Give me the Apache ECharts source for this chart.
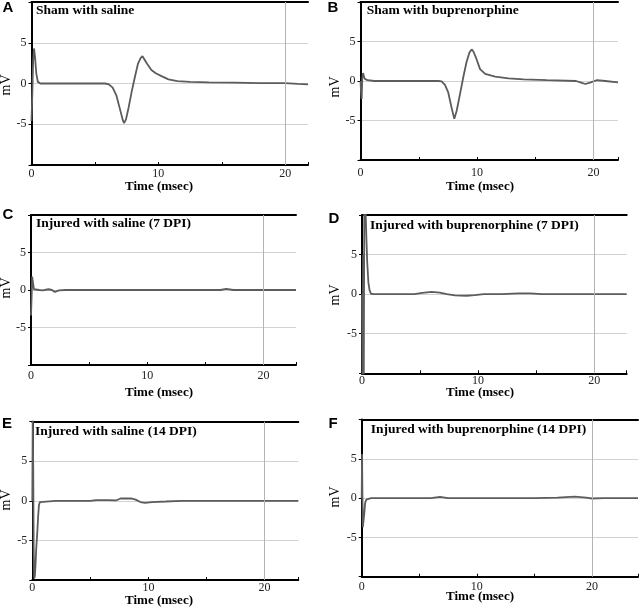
<!DOCTYPE html>
<html>
<head>
<meta charset="utf-8">
<script src="https://cdn.jsdelivr.net/npm/echarts@6/dist/echarts.min.js"></script>
<style>
  html, body { margin: 0; padding: 0; background: #fff; }
  #main { width: 641px; height: 609px; }
</style>
</head>
<body>
<div id="main"></div>
<script>
// panel letters and headings
var letters = ['A', 'B', 'C', 'D', 'E', 'F'];
var headings = [
  'Sham with saline',
  'Sham with buprenorphine',
  'Injured with saline (7 DPI)',
  'Injured with buprenorphine (7 DPI)',
  'Injured with saline (14 DPI)',
  'Injured with buprenorphine (14 DPI)'
];
var xTickLabels = [0, 10, 20];
var yTickLabels = [-5, 0, 5];
var xMaxes = [21.8, 22.1, 22.8, 22.8, 22.9, 24];
var yMins = [-10, -10, -10, -10, -10, -10];
var yMaxes = [10, 10, 10, 10, 10, 10];

// traces: time (msec) and voltage (mV)
var tA = [0, 0.06, 0.13, 0.2, 0.28, 0.38, 0.5, 0.7, 2, 4, 5.8, 6.1, 6.4, 6.7, 7.0, 7.2, 7.3, 7.45, 7.65, 7.9, 8.15, 8.4, 8.6, 8.75, 8.9, 9.1, 9.45, 9.8, 10.25, 10.8, 11.5, 12.5, 14, 16, 18, 20, 21, 21.8];
var vA = [-4.6, -1.5, 2.8, 4.3, 3.2, 1.2, 0.2, 0, 0, 0, 0, -0.1, -0.5, -1.5, -3.3, -4.5, -4.85, -4.4, -3.0, -1.0, 0.8, 2.45, 3.1, 3.35, 3.2, 2.45, 1.65, 1.25, 0.9, 0.5, 0.3, 0.2, 0.15, 0.1, 0.05, 0.05, -0.05, -0.1];

var tB = [0, 0.05, 0.1, 0.15, 0.22, 0.35, 0.6, 1.2, 3, 5, 6.7, 6.96, 7.25, 7.53, 7.82, 8.05, 8.25, 8.54, 8.82, 9.1, 9.35, 9.54, 9.7, 9.9, 10.26, 10.7, 11.55, 12.7, 14, 16, 18.5, 19.0, 19.3, 19.7, 20.3, 21, 22.1];
var vB = [0, -1.5, -2.3, 0.3, 1.0, 0.3, 0.1, 0, 0, 0, 0, -0.05, -0.5, -1.45, -3.4, -4.77, -3.8, -1.66, 0.47, 2.4, 3.6, 4.0, 3.7, 3.0, 1.5, 0.9, 0.55, 0.33, 0.2, 0.1, 0, -0.25, -0.38, -0.2, 0.1, 0, -0.17];

var tC = [0, 0.05, 0.1, 0.15, 0.25, 0.4, 0.7, 1.0, 1.5, 1.8, 2.05, 2.4, 3, 5, 8, 11, 14, 16.3, 16.8, 17.4, 19, 21, 22.8];
var vC = [-3.4, -1.0, 1.8, 1.2, 0.1, -0.1, 0, -0.05, 0.1, 0, -0.25, -0.05, 0, 0, 0, 0, 0, 0, 0.15, 0, 0, 0, 0];

var tD = [0, 0.05, 0.1, 0.15, 0.2, 0.3, 0.38, 0.45, 0.55, 0.65, 0.77, 1.0, 2, 4.5, 5.2, 6.0, 6.7, 7.3, 8.0, 9.0, 9.7, 10.5, 12, 13.5, 14.5, 15.5, 18, 20, 22.8];
var vD = [0, -12, 5, -12, 12, 11, 7, 4, 1.5, 0.5, 0.05, 0, 0, 0, 0.15, 0.3, 0.2, 0, -0.15, -0.2, -0.12, 0, 0, 0.1, 0.1, 0, 0, 0, 0];

var tE = [0, 0.04, 0.08, 0.12, 0.16, 0.22, 0.28, 0.34, 0.43, 0.5, 0.57, 0.65, 0.75, 2, 5, 5.5, 6.5, 7.2, 7.6, 8.5, 8.9, 9.3, 9.7, 10.3, 11.5, 12.8, 15, 20, 22.9];
var vE = [0, 11, 4, -6, -9.8, -9.5, -8, -6, -4, -2, -0.6, -0.15, 0, 0, 0, 0.1, 0.1, 0.05, 0.3, 0.3, 0.15, -0.15, -0.25, -0.15, -0.08, 0, 0, 0, 0];

var tF = [0, 0.03, 0.06, 0.1, 0.15, 0.22, 0.3, 0.4, 0.55, 0.8, 2, 6, 6.8, 7.5, 10, 15, 17, 18.5, 19.5, 20, 21, 24];
var vF = [0, 5.6, 1, -3.7, -3.5, -2, -0.6, -0.2, -0.05, 0, 0, 0, 0.15, 0, 0, 0, 0.05, 0.18, 0.05, -0.05, 0, 0];

var times = [tA, tB, tC, tD, tE, tF];
var volts = [vA, vB, vC, vD, vE, vF];

// layout in pixels: [left, top, width, height]
var boxes = [
  [31.5, 2, 276.5, 163],
  [360.5, 2, 257.5, 158],
  [31, 215, 265, 150],
  [362, 215, 264.7, 158.3],
  [32.3, 421.7, 266, 158.3],
  [361.7, 419.5, 279.3, 157.2]
];
var xLabelMargin = [3, 7, 5, 2, 2, 4];
var letterPos = [[8, 8], [333, 8], [8, 215], [334, 219], [7, 424], [333, 424]];
var headPos = [[36, 11], [366.7, 11], [36, 224], [370, 226], [35, 432], [370.7, 430]];
var mvPos = [[6, 85], [335, 87], [6, 288], [335, 295], [6, 500], [335, 497]];
var timePos = [[159, 187], [480, 187], [159, 393], [480, 393], [159, 601], [480, 597]];

var serif = '"Liberation Serif", "DejaVu Serif", serif';

var grids = [], xAxes = [], yAxes = [], series = [], graphics = [];

for (var i = 0; i < 6; i++) {
  var b = boxes[i];
  grids.push({ left: b[0], top: b[1], width: b[2], height: b[3], containLabel: false });

  xAxes.push({
    type: 'value', gridIndex: i, position: 'bottom',
    min: 0, max: xMaxes[i], interval: 5,
    axisLine: { show: true, onZero: false, lineStyle: { color: '#000', width: 2 } },
    axisTick: { show: true, inside: true, length: 3, lineStyle: { color: '#000' } },
    axisLabel: {
      margin: xLabelMargin[i], color: '#222', fontFamily: serif, fontSize: 12,
      formatter: function (v) { return xTickLabels.indexOf(v) >= 0 ? String(v) : ''; }
    },
    splitLine: { show: false }
  });
  // top border
  xAxes.push({
    type: 'value', gridIndex: i, position: 'top',
    min: 0, max: xMaxes[i],
    axisLine: { show: true, onZero: false, lineStyle: { color: '#000', width: 2 } },
    axisTick: { show: false }, axisLabel: { show: false }, splitLine: { show: false }
  });

  yAxes.push({
    type: 'value', gridIndex: i,
    min: yMins[i], max: yMaxes[i], interval: 5,
    axisLine: { show: true, onZero: false, lineStyle: { color: '#000', width: 2 } },
    axisTick: { show: true, length: 3, lineStyle: { color: '#000' } },
    axisLabel: {
      margin: 5, color: '#222', fontFamily: serif, fontSize: 12,
      formatter: function (v) { return yTickLabels.indexOf(v) >= 0 ? String(v) : ''; }
    },
    splitLine: { show: true, showMinLine: false, showMaxLine: false, lineStyle: { color: '#d2d2d2', width: 1 } }
  });

  var pts = times[i].map(function (t, k) { return [t, volts[i][k]]; });
  series.push({
    type: 'line', xAxisIndex: i * 2, yAxisIndex: i,
    data: pts, showSymbol: false, symbol: 'none',
    lineStyle: { color: '#5c5c5c', width: 1.8 },
    clip: true, animation: false,
    markLine: {
      silent: true, symbol: 'none', label: { show: false },
      lineStyle: { color: '#b4b4b4', type: 'solid', width: 1 },
      data: [{ xAxis: 20 }]
    }
  });

  graphics.push({
    type: 'text', x: letterPos[i][0], y: letterPos[i][1],
    style: { text: letters[i], font: 'bold 15px "Liberation Sans", Arial, sans-serif', fill: '#000', textAlign: 'center', textVerticalAlign: 'middle' }
  });
  graphics.push({
    type: 'text', x: headPos[i][0], y: headPos[i][1], z: 100,
    style: { text: headings[i], font: 'bold 13.5px ' + serif, fill: '#000', textAlign: 'left', textVerticalAlign: 'middle' }
  });
  graphics.push({
    type: 'text', x: mvPos[i][0], y: mvPos[i][1], rotation: Math.PI / 2,
    style: { text: 'mV', font: '14px ' + serif, fill: '#000', textAlign: 'center', textVerticalAlign: 'middle' }
  });
  graphics.push({
    type: 'text', x: timePos[i][0], y: timePos[i][1],
    style: { text: 'Time (msec)', font: 'bold 13px ' + serif, fill: '#000', textAlign: 'center', textVerticalAlign: 'middle' }
  });
}

var chart = echarts.init(document.getElementById('main'));
chart.setOption({
  animation: false,
  backgroundColor: '#fff',
  grid: grids,
  xAxis: xAxes,
  yAxis: yAxes,
  series: series,
  graphic: graphics
});
</script>
</body>
</html>
